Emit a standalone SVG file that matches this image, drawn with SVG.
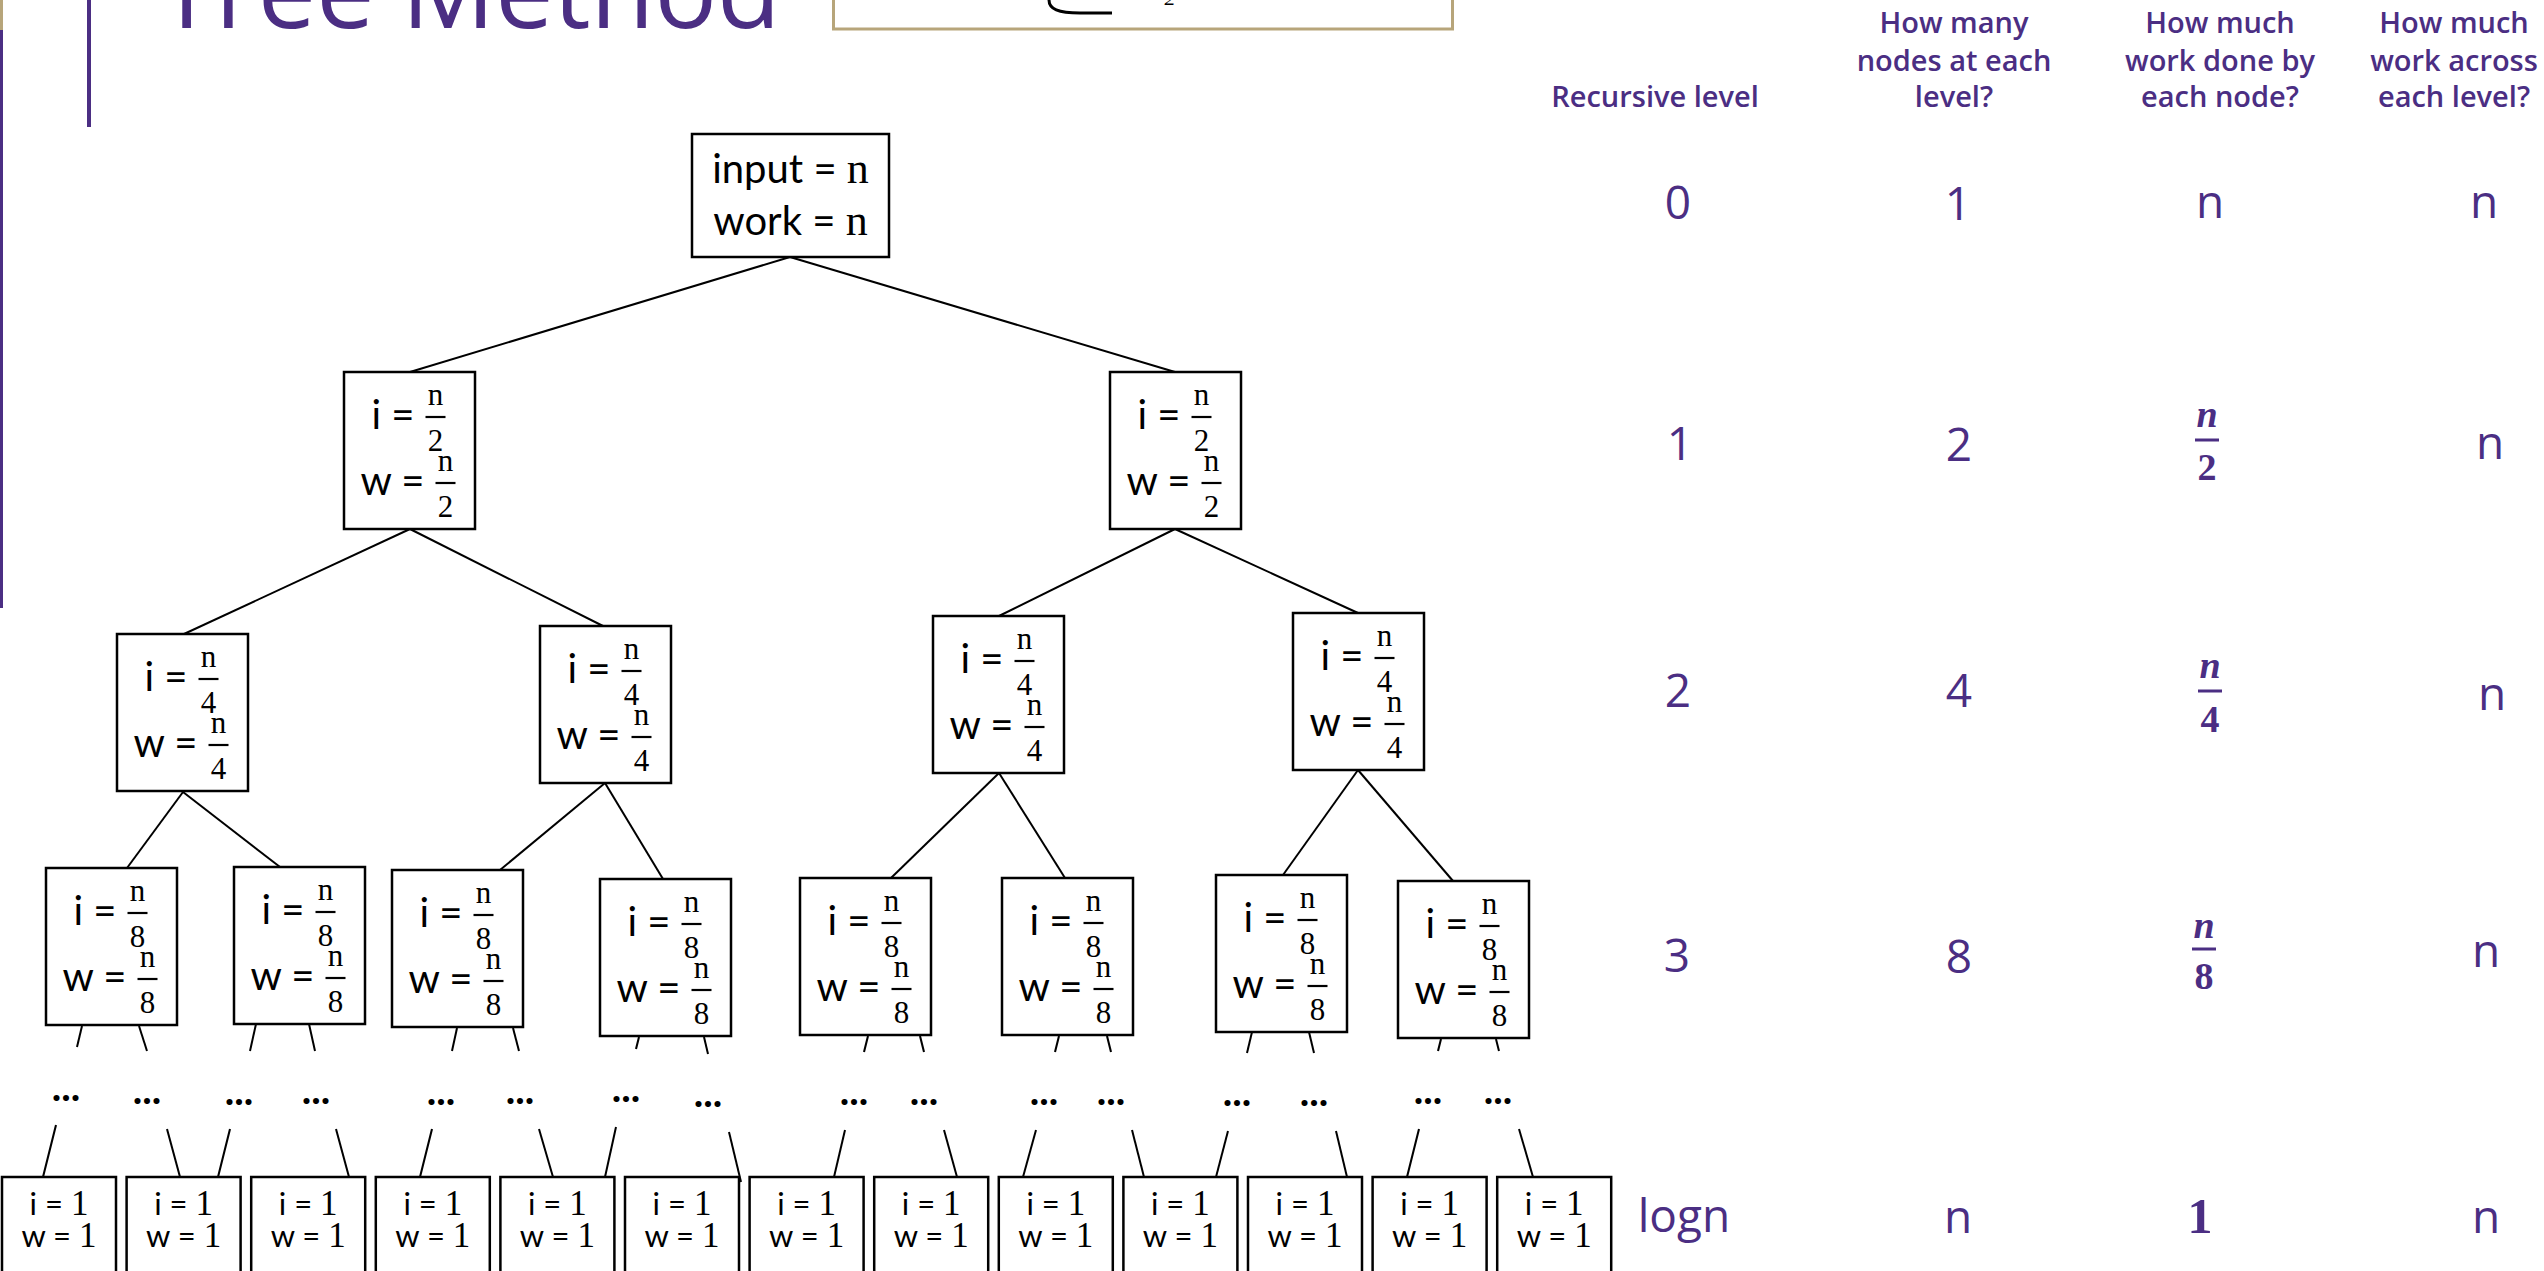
<svg xmlns="http://www.w3.org/2000/svg" width="2544" height="1271" viewBox="0 0 2544 1271">
<style>
.box{fill:#fff;stroke:#000;stroke-width:2.5}
.edge{stroke:#000;stroke-width:2;fill:none}
.lbl{font-family:Lato,"Liberation Sans",sans-serif;font-size:40px;fill:#000}
.leaf{font-family:Lato,"Liberation Sans",sans-serif;font-size:31px;fill:#000;text-anchor:middle}
.m{font-family:"Liberation Serif","DejaVu Serif",serif}
.fr{font-family:"Liberation Serif","DejaVu Serif",serif;font-size:31px;fill:#000;text-anchor:middle}
.bar{stroke:#000;stroke-width:2.2}
.end{text-anchor:end}
.hd{font-family:"Open Sans","Noto Sans",sans-serif;font-size:29px;font-weight:600;fill:#4B2E83;text-anchor:middle}
.val{font-family:"Open Sans","Noto Sans",sans-serif;font-size:46px;font-weight:500;fill:#4B2E83;text-anchor:middle}
.mv{font-family:"Liberation Serif","DejaVu Serif",serif;font-size:38px;font-weight:bold;fill:#4B2E83;text-anchor:middle}
.big{font-size:50px}
.pbar{stroke:#4B2E83;stroke-width:3}
.dots{font-family:Lato,"Liberation Sans",sans-serif;font-size:40px;font-weight:bold;fill:#000;text-anchor:middle}
</style>
<rect width="2544" height="1271" fill="#fff"/>

<g id="decor">
<line x1="1.5" y1="0" x2="1.5" y2="30" stroke="#B7A57A" stroke-width="3"/>
<line x1="1.5" y1="30" x2="1.5" y2="608" stroke="#4B2E83" stroke-width="3"/>
<line x1="89" y1="0" x2="89" y2="127" stroke="#4B2E83" stroke-width="4"/>
<text x="158" y="28" font-family="'Open Sans','Noto Sans',sans-serif" font-size="104" font-weight="500" fill="#4B2E83">Tree Method</text>
<rect x="833.5" y="-50" width="619" height="79" fill="#fff" stroke="#B7A57A" stroke-width="3"/>
<path d="M1049,0 C1049,9 1058,13 1080,13 L1112,13" fill="none" stroke="#000" stroke-width="3"/>
<text x="1170" y="5" font-family="'Liberation Serif',serif" font-size="22" font-style="italic" text-anchor="middle">2</text>
</g>

<g id="connectors">
<line class="edge" x1="790" y1="257" x2="410" y2="372"/>
<line class="edge" x1="790" y1="257" x2="1175" y2="372"/>
<line class="edge" x1="410" y1="529" x2="184" y2="634"/>
<line class="edge" x1="410" y1="529" x2="603" y2="626"/>
<line class="edge" x1="1175" y1="529" x2="999" y2="616"/>
<line class="edge" x1="1175" y1="529" x2="1358" y2="613"/>
<line class="edge" x1="183" y1="792" x2="127" y2="868"/>
<line class="edge" x1="183" y1="792" x2="280" y2="867"/>
<line class="edge" x1="605" y1="783" x2="500" y2="870"/>
<line class="edge" x1="605" y1="783" x2="663" y2="879"/>
<line class="edge" x1="999" y1="773" x2="891" y2="878"/>
<line class="edge" x1="999" y1="773" x2="1065" y2="878"/>
<line class="edge" x1="1358" y1="770" x2="1283" y2="875"/>
<line class="edge" x1="1358" y1="770" x2="1453" y2="881"/>
<line class="edge" x1="82" y1="1026" x2="77" y2="1047"/>
<line class="edge" x1="139" y1="1026" x2="147" y2="1051"/>
<line class="edge" x1="256" y1="1024" x2="250" y2="1051"/>
<line class="edge" x1="309" y1="1024" x2="315" y2="1051"/>
<line class="edge" x1="457" y1="1028" x2="452" y2="1051"/>
<line class="edge" x1="513" y1="1028" x2="519" y2="1051"/>
<line class="edge" x1="639" y1="1037" x2="636" y2="1049"/>
<line class="edge" x1="704" y1="1037" x2="708" y2="1054"/>
<line class="edge" x1="868" y1="1036" x2="864" y2="1052"/>
<line class="edge" x1="920" y1="1036" x2="924" y2="1052"/>
<line class="edge" x1="1059" y1="1036" x2="1055" y2="1052"/>
<line class="edge" x1="1107" y1="1036" x2="1111" y2="1052"/>
<line class="edge" x1="1252" y1="1032" x2="1247" y2="1053"/>
<line class="edge" x1="1309" y1="1032" x2="1314" y2="1053"/>
<line class="edge" x1="1441" y1="1039" x2="1438" y2="1051"/>
<line class="edge" x1="1496" y1="1039" x2="1499" y2="1051"/>
<line class="edge" x1="56" y1="1125" x2="43" y2="1177"/>
<line class="edge" x1="167" y1="1129" x2="180" y2="1177"/>
<line class="edge" x1="230" y1="1129" x2="218" y2="1177"/>
<line class="edge" x1="336" y1="1129" x2="349" y2="1177"/>
<line class="edge" x1="432" y1="1129" x2="420" y2="1177"/>
<line class="edge" x1="539" y1="1129" x2="553" y2="1177"/>
<line class="edge" x1="616" y1="1127" x2="605" y2="1177"/>
<line class="edge" x1="729" y1="1132" x2="741" y2="1182"/>
<line class="edge" x1="845" y1="1130" x2="834" y2="1177"/>
<line class="edge" x1="944" y1="1130" x2="957" y2="1177"/>
<line class="edge" x1="1036" y1="1130" x2="1023" y2="1177"/>
<line class="edge" x1="1132" y1="1130" x2="1144" y2="1177"/>
<line class="edge" x1="1228" y1="1131" x2="1216" y2="1177"/>
<line class="edge" x1="1336" y1="1131" x2="1347" y2="1177"/>
<line class="edge" x1="1419" y1="1129" x2="1407" y2="1177"/>
<line class="edge" x1="1519" y1="1129" x2="1533" y2="1177"/>
</g>

<g id="ellipses">
<text class="dots" x="66" y="1101">...</text>
<text class="dots" x="147" y="1104">...</text>
<text class="dots" x="239" y="1105">...</text>
<text class="dots" x="316" y="1104">...</text>
<text class="dots" x="441" y="1105">...</text>
<text class="dots" x="520" y="1104">...</text>
<text class="dots" x="626" y="1102">...</text>
<text class="dots" x="708" y="1107">...</text>
<text class="dots" x="854" y="1105">...</text>
<text class="dots" x="924" y="1105">...</text>
<text class="dots" x="1044" y="1105">...</text>
<text class="dots" x="1111" y="1105">...</text>
<text class="dots" x="1237" y="1106">...</text>
<text class="dots" x="1314" y="1106">...</text>
<text class="dots" x="1428" y="1104">...</text>
<text class="dots" x="1498" y="1104">...</text>
</g>

<g id="root" transform="translate(692,134)">
<rect class="box" width="197" height="123"/>
<text class="lbl" x="98.5" y="49" text-anchor="middle">input = <tspan class="m" font-size="44">n</tspan></text>
<text class="lbl" x="98.5" y="101" text-anchor="middle">work = <tspan class="m" font-size="44">n</tspan></text>
</g>

<g id="n1L" transform="translate(344,372)">
<rect class="box" width="131" height="157"/>
<text class="lbl end" x="70.5" y="57">i =</text>
<text class="fr" x="91.5" y="33">n</text><line class="bar" x1="81.5" y1="45" x2="101.5" y2="45"/><text class="fr" x="91.5" y="79">2</text>
<text class="lbl end" x="80.5" y="123">w =</text>
<text class="fr" x="101.5" y="99">n</text><line class="bar" x1="91.5" y1="111" x2="111.5" y2="111"/><text class="fr" x="101.5" y="145">2</text>
</g>
<g id="n1R" transform="translate(1110,372)">
<rect class="box" width="131" height="157"/>
<text class="lbl end" x="70.5" y="57">i =</text>
<text class="fr" x="91.5" y="33">n</text><line class="bar" x1="81.5" y1="45" x2="101.5" y2="45"/><text class="fr" x="91.5" y="79">2</text>
<text class="lbl end" x="80.5" y="123">w =</text>
<text class="fr" x="101.5" y="99">n</text><line class="bar" x1="91.5" y1="111" x2="111.5" y2="111"/><text class="fr" x="101.5" y="145">2</text>
</g>

<g id="n2A" transform="translate(117,634)">
<rect class="box" width="131" height="157"/>
<text class="lbl end" x="70.5" y="57">i =</text>
<text class="fr" x="91.5" y="33">n</text><line class="bar" x1="81.5" y1="45" x2="101.5" y2="45"/><text class="fr" x="91.5" y="79">4</text>
<text class="lbl end" x="80.5" y="123">w =</text>
<text class="fr" x="101.5" y="99">n</text><line class="bar" x1="91.5" y1="111" x2="111.5" y2="111"/><text class="fr" x="101.5" y="145">4</text>
</g>
<g id="n2B" transform="translate(540,626)">
<rect class="box" width="131" height="157"/>
<text class="lbl end" x="70.5" y="57">i =</text>
<text class="fr" x="91.5" y="33">n</text><line class="bar" x1="81.5" y1="45" x2="101.5" y2="45"/><text class="fr" x="91.5" y="79">4</text>
<text class="lbl end" x="80.5" y="123">w =</text>
<text class="fr" x="101.5" y="99">n</text><line class="bar" x1="91.5" y1="111" x2="111.5" y2="111"/><text class="fr" x="101.5" y="145">4</text>
</g>
<g id="n2C" transform="translate(933,616)">
<rect class="box" width="131" height="157"/>
<text class="lbl end" x="70.5" y="57">i =</text>
<text class="fr" x="91.5" y="33">n</text><line class="bar" x1="81.5" y1="45" x2="101.5" y2="45"/><text class="fr" x="91.5" y="79">4</text>
<text class="lbl end" x="80.5" y="123">w =</text>
<text class="fr" x="101.5" y="99">n</text><line class="bar" x1="91.5" y1="111" x2="111.5" y2="111"/><text class="fr" x="101.5" y="145">4</text>
</g>
<g id="n2D" transform="translate(1293,613)">
<rect class="box" width="131" height="157"/>
<text class="lbl end" x="70.5" y="57">i =</text>
<text class="fr" x="91.5" y="33">n</text><line class="bar" x1="81.5" y1="45" x2="101.5" y2="45"/><text class="fr" x="91.5" y="79">4</text>
<text class="lbl end" x="80.5" y="123">w =</text>
<text class="fr" x="101.5" y="99">n</text><line class="bar" x1="91.5" y1="111" x2="111.5" y2="111"/><text class="fr" x="101.5" y="145">4</text>
</g>

<g id="n3a" transform="translate(46,868)">
<rect class="box" width="131" height="157"/>
<text class="lbl end" x="70.5" y="57">i =</text>
<text class="fr" x="91.5" y="33">n</text><line class="bar" x1="81.5" y1="45" x2="101.5" y2="45"/><text class="fr" x="91.5" y="79">8</text>
<text class="lbl end" x="80.5" y="123">w =</text>
<text class="fr" x="101.5" y="99">n</text><line class="bar" x1="91.5" y1="111" x2="111.5" y2="111"/><text class="fr" x="101.5" y="145">8</text>
</g>
<g id="n3b" transform="translate(234,867)">
<rect class="box" width="131" height="157"/>
<text class="lbl end" x="70.5" y="57">i =</text>
<text class="fr" x="91.5" y="33">n</text><line class="bar" x1="81.5" y1="45" x2="101.5" y2="45"/><text class="fr" x="91.5" y="79">8</text>
<text class="lbl end" x="80.5" y="123">w =</text>
<text class="fr" x="101.5" y="99">n</text><line class="bar" x1="91.5" y1="111" x2="111.5" y2="111"/><text class="fr" x="101.5" y="145">8</text>
</g>
<g id="n3c" transform="translate(392,870)">
<rect class="box" width="131" height="157"/>
<text class="lbl end" x="70.5" y="57">i =</text>
<text class="fr" x="91.5" y="33">n</text><line class="bar" x1="81.5" y1="45" x2="101.5" y2="45"/><text class="fr" x="91.5" y="79">8</text>
<text class="lbl end" x="80.5" y="123">w =</text>
<text class="fr" x="101.5" y="99">n</text><line class="bar" x1="91.5" y1="111" x2="111.5" y2="111"/><text class="fr" x="101.5" y="145">8</text>
</g>
<g id="n3d" transform="translate(600,879)">
<rect class="box" width="131" height="157"/>
<text class="lbl end" x="70.5" y="57">i =</text>
<text class="fr" x="91.5" y="33">n</text><line class="bar" x1="81.5" y1="45" x2="101.5" y2="45"/><text class="fr" x="91.5" y="79">8</text>
<text class="lbl end" x="80.5" y="123">w =</text>
<text class="fr" x="101.5" y="99">n</text><line class="bar" x1="91.5" y1="111" x2="111.5" y2="111"/><text class="fr" x="101.5" y="145">8</text>
</g>
<g id="n3e" transform="translate(800,878)">
<rect class="box" width="131" height="157"/>
<text class="lbl end" x="70.5" y="57">i =</text>
<text class="fr" x="91.5" y="33">n</text><line class="bar" x1="81.5" y1="45" x2="101.5" y2="45"/><text class="fr" x="91.5" y="79">8</text>
<text class="lbl end" x="80.5" y="123">w =</text>
<text class="fr" x="101.5" y="99">n</text><line class="bar" x1="91.5" y1="111" x2="111.5" y2="111"/><text class="fr" x="101.5" y="145">8</text>
</g>
<g id="n3f" transform="translate(1002,878)">
<rect class="box" width="131" height="157"/>
<text class="lbl end" x="70.5" y="57">i =</text>
<text class="fr" x="91.5" y="33">n</text><line class="bar" x1="81.5" y1="45" x2="101.5" y2="45"/><text class="fr" x="91.5" y="79">8</text>
<text class="lbl end" x="80.5" y="123">w =</text>
<text class="fr" x="101.5" y="99">n</text><line class="bar" x1="91.5" y1="111" x2="111.5" y2="111"/><text class="fr" x="101.5" y="145">8</text>
</g>
<g id="n3g" transform="translate(1216,875)">
<rect class="box" width="131" height="157"/>
<text class="lbl end" x="70.5" y="57">i =</text>
<text class="fr" x="91.5" y="33">n</text><line class="bar" x1="81.5" y1="45" x2="101.5" y2="45"/><text class="fr" x="91.5" y="79">8</text>
<text class="lbl end" x="80.5" y="123">w =</text>
<text class="fr" x="101.5" y="99">n</text><line class="bar" x1="91.5" y1="111" x2="111.5" y2="111"/><text class="fr" x="101.5" y="145">8</text>
</g>
<g id="n3h" transform="translate(1398,881)">
<rect class="box" width="131" height="157"/>
<text class="lbl end" x="70.5" y="57">i =</text>
<text class="fr" x="91.5" y="33">n</text><line class="bar" x1="81.5" y1="45" x2="101.5" y2="45"/><text class="fr" x="91.5" y="79">8</text>
<text class="lbl end" x="80.5" y="123">w =</text>
<text class="fr" x="101.5" y="99">n</text><line class="bar" x1="91.5" y1="111" x2="111.5" y2="111"/><text class="fr" x="101.5" y="145">8</text>
</g>

<g id="leaves">
<g id="leaf1" transform="translate(2,1177)"><rect class="box" width="114" height="120"/><text class="leaf" x="57" y="38">i = <tspan class="m" font-size="35">1</tspan></text><text class="leaf" x="57" y="70">w = <tspan class="m" font-size="35">1</tspan></text></g>
<g id="leaf2" transform="translate(126.6,1177)"><rect class="box" width="114" height="120"/><text class="leaf" x="57" y="38">i = <tspan class="m" font-size="35">1</tspan></text><text class="leaf" x="57" y="70">w = <tspan class="m" font-size="35">1</tspan></text></g>
<g id="leaf3" transform="translate(251.2,1177)"><rect class="box" width="114" height="120"/><text class="leaf" x="57" y="38">i = <tspan class="m" font-size="35">1</tspan></text><text class="leaf" x="57" y="70">w = <tspan class="m" font-size="35">1</tspan></text></g>
<g id="leaf4" transform="translate(375.8,1177)"><rect class="box" width="114" height="120"/><text class="leaf" x="57" y="38">i = <tspan class="m" font-size="35">1</tspan></text><text class="leaf" x="57" y="70">w = <tspan class="m" font-size="35">1</tspan></text></g>
<g id="leaf5" transform="translate(500.4,1177)"><rect class="box" width="114" height="120"/><text class="leaf" x="57" y="38">i = <tspan class="m" font-size="35">1</tspan></text><text class="leaf" x="57" y="70">w = <tspan class="m" font-size="35">1</tspan></text></g>
<g id="leaf6" transform="translate(625,1177)"><rect class="box" width="114" height="120"/><text class="leaf" x="57" y="38">i = <tspan class="m" font-size="35">1</tspan></text><text class="leaf" x="57" y="70">w = <tspan class="m" font-size="35">1</tspan></text></g>
<g id="leaf7" transform="translate(749.6,1177)"><rect class="box" width="114" height="120"/><text class="leaf" x="57" y="38">i = <tspan class="m" font-size="35">1</tspan></text><text class="leaf" x="57" y="70">w = <tspan class="m" font-size="35">1</tspan></text></g>
<g id="leaf8" transform="translate(874.2,1177)"><rect class="box" width="114" height="120"/><text class="leaf" x="57" y="38">i = <tspan class="m" font-size="35">1</tspan></text><text class="leaf" x="57" y="70">w = <tspan class="m" font-size="35">1</tspan></text></g>
<g id="leaf9" transform="translate(998.8,1177)"><rect class="box" width="114" height="120"/><text class="leaf" x="57" y="38">i = <tspan class="m" font-size="35">1</tspan></text><text class="leaf" x="57" y="70">w = <tspan class="m" font-size="35">1</tspan></text></g>
<g id="leaf10" transform="translate(1123.4,1177)"><rect class="box" width="114" height="120"/><text class="leaf" x="57" y="38">i = <tspan class="m" font-size="35">1</tspan></text><text class="leaf" x="57" y="70">w = <tspan class="m" font-size="35">1</tspan></text></g>
<g id="leaf11" transform="translate(1248,1177)"><rect class="box" width="114" height="120"/><text class="leaf" x="57" y="38">i = <tspan class="m" font-size="35">1</tspan></text><text class="leaf" x="57" y="70">w = <tspan class="m" font-size="35">1</tspan></text></g>
<g id="leaf12" transform="translate(1372.6,1177)"><rect class="box" width="114" height="120"/><text class="leaf" x="57" y="38">i = <tspan class="m" font-size="35">1</tspan></text><text class="leaf" x="57" y="70">w = <tspan class="m" font-size="35">1</tspan></text></g>
<g id="leaf13" transform="translate(1497.2,1177)"><rect class="box" width="114" height="120"/><text class="leaf" x="57" y="38">i = <tspan class="m" font-size="35">1</tspan></text><text class="leaf" x="57" y="70">w = <tspan class="m" font-size="35">1</tspan></text></g>
</g>

<g id="table">
<text class="hd" x="1655" y="107">Recursive level</text>
<text class="hd" x="1954" y="33">How many</text>
<text class="hd" x="1954" y="71">nodes at each</text>
<text class="hd" x="1954" y="107">level?</text>
<text class="hd" x="2220" y="33">How much</text>
<text class="hd" x="2220" y="71">work done by</text>
<text class="hd" x="2220" y="107">each node?</text>
<text class="hd" x="2454" y="33">How much</text>
<text class="hd" x="2454" y="71">work across</text>
<text class="hd" x="2454" y="107">each level?</text>

<text class="val" x="1678" y="219">0</text>
<text class="val" x="1958" y="220">1</text>
<text class="val" x="2210" y="218">n</text>
<text class="val" x="2484" y="218">n</text>

<text class="val" x="1680" y="460">1</text>
<text class="val" x="1959" y="461">2</text>
<text class="mv" x="2207" y="427" font-style="italic">n</text><line class="pbar" x1="2195" y1="440" x2="2219" y2="440"/><text class="mv" x="2207" y="480">2</text>
<text class="val" x="2490" y="459">n</text>

<text class="val" x="1678" y="707">2</text>
<text class="val" x="1959" y="707">4</text>
<text class="mv" x="2210" y="678" font-style="italic">n</text><line class="pbar" x1="2198" y1="691" x2="2222" y2="691"/><text class="mv" x="2210" y="732">4</text>
<text class="val" x="2492" y="710">n</text>

<text class="val" x="1677" y="972">3</text>
<text class="val" x="1959" y="973">8</text>
<text class="mv" x="2204" y="938" font-style="italic">n</text><line class="pbar" x1="2192" y1="949" x2="2216" y2="949"/><text class="mv" x="2204" y="989">8</text>
<text class="val" x="2486" y="967">n</text>

<text class="val" x="1684" y="1232">logn</text>
<text class="val" x="1958" y="1233">n</text>
<text class="mv big" x="2200" y="1233">1</text>
<text class="val" x="2486" y="1233">n</text>
</g>
</svg>
